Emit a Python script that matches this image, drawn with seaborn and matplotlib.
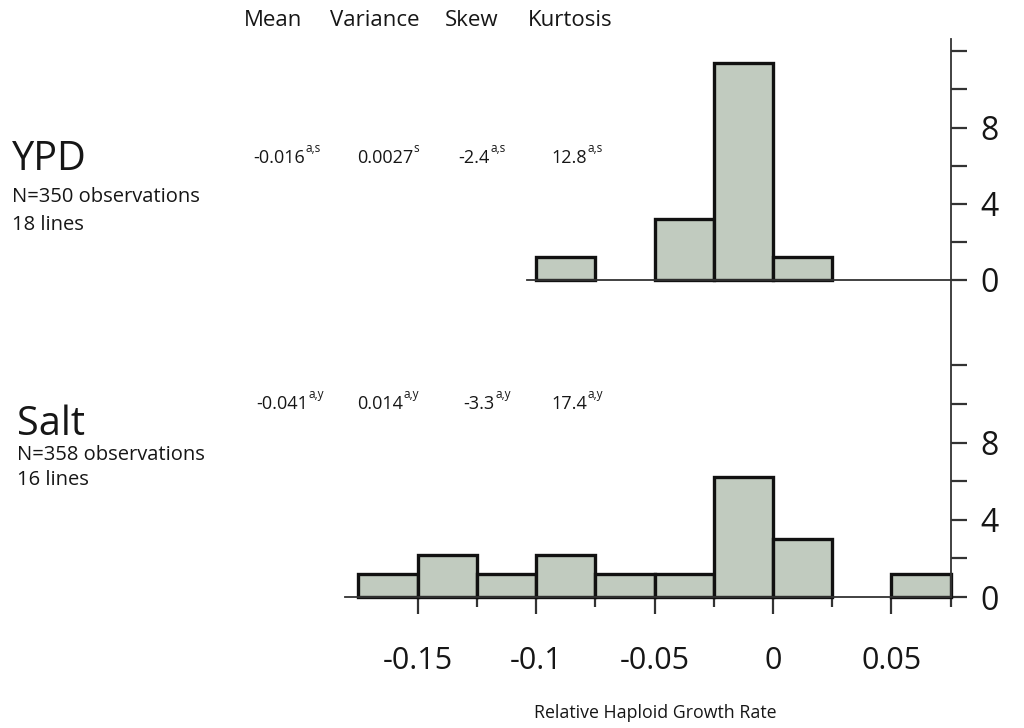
import matplotlib
matplotlib.use("Agg")
import matplotlib.pyplot as plt
import seaborn as sns
import numpy as np

# ---- data -------------------------------------------------------------
bin_edges = [-0.175, -0.15, -0.125, -0.1, -0.075, -0.05, -0.025, 0.0, 0.025, 0.05, 0.075]
ypd_counts = [0, 0, 0, 1.2, 0, 3.2, 11.4, 1.2, 0, 0]
salt_counts = [1.2, 2.2, 1.2, 2.2, 1.2, 1.2, 6.2, 3.0, 0, 1.2]

x_major = [-0.15, -0.1, -0.05, 0.0, 0.05]
x_major_labels = ["-0.15", "-0.1", "-0.05", "0", "0.05"]
x_minor = [-0.125, -0.075, -0.025, 0.025, 0.075]
y_ticks = [0, 2, 4, 6, 8, 10, 12]
y_tick_labels = ["0", "", "4", "", "8", "", ""]

stat_headers = ["Mean", "Variance", "Skew", "Kurtosis"]
ypd_stats = ["-0.016", "0.0027", "-2.4", "12.8"]
ypd_marks = ["a,s", "s", "a,s", "a,s"]
salt_stats = ["-0.041", "0.014", "-3.3", "17.4"]
salt_marks = ["a,y", "a,y", "a,y", "a,y"]

conditions = ["YPD", "Salt"]
condition_notes = [["N=350 observations", "18 lines"],
                   ["N=358 observations", "16 lines"]]

# ---- style ------------------------------------------------------------
sns.set_style("white")
plt.rcParams["font.family"] = ["Open Sans", "DejaVu Sans"]
TXT = "#161616"
BAR_FILL = "#c1cbbf"
BAR_EDGE = "#111111"
AXIS = "#333333"

W, H = 1024, 728
fig = plt.figure(figsize=(W / 100, H / 100), dpi=100)


def box(x0, y0, x1, y1):
    return [x0 / W, 1 - y1 / H, (x1 - x0) / W, (y1 - y0) / H]


def fpos(x, y):
    return x / W, 1 - y / H


ax_top = fig.add_axes(box(527, 39, 950.6, 280))
ax_bot = fig.add_axes(box(345, 280, 950.6, 597))

centers = [(a + b) / 2 for a, b in zip(bin_edges[:-1], bin_edges[1:])]

for ax, counts in ((ax_top, ypd_counts), (ax_bot, salt_counts)):
    sns.histplot(x=centers, weights=counts, bins=bin_edges, ax=ax,
                 color=BAR_FILL, edgecolor=BAR_EDGE, linewidth=2.4, alpha=1)
    for p in ax.patches:
        p.set_clip_on(False)
        if p.get_height() == 0:
            p.set_visible(False)
    ax.set_xlabel("")
    ax.set_ylabel("")
    for side in ("left", "top"):
        ax.spines[side].set_visible(False)
    for side in ("right", "bottom"):
        ax.spines[side].set_visible(True)
        ax.spines[side].set_color(AXIS)
        ax.spines[side].set_linewidth(1.3)
    ax.yaxis.tick_right()
    ax.set_yticks(y_ticks)
    ax.set_yticklabels(y_tick_labels)
    ax.tick_params(axis="y", which="major", direction="out", length=11.5,
                   width=1.6, color=AXIS, pad=10, labelsize=23, labelcolor=TXT)
    ax.patch.set_alpha(0)

ax_top.set_xlim(-0.1039, 0.075)
ax_top.set_ylim(0, 12.65)
ax_top.set_xticks([])

ax_bot.set_xlim(-0.1807, 0.075)
ax_bot.set_ylim(0, 16.42)
ax_bot.set_xticks(x_major)
ax_bot.set_xticklabels(x_major_labels)
ax_bot.set_xticks(x_minor, minor=True)
ax_bot.tick_params(axis="x", which="major", direction="out", length=12,
                   width=1.6, color=AXIS, pad=23, labelsize=22, labelcolor=TXT)
ax_bot.tick_params(axis="x", which="minor", direction="out", length=7,
                   width=1.6, color=AXIS)
ax_bot.tick_params(axis="x", which="both", bottom=True)

ax_bot.set_xlabel("Relative Haploid Growth Rate", fontsize=12.8, color=TXT)
ax_bot.xaxis.set_label_coords((655 - 345) / 605.6, -(718 - 597) / 317)
ax_bot.xaxis.label.set_va("baseline")

# ---- summary statistics table ----------------------------------------
header_x = [273, 375, 472, 570]
for hx, name in zip(header_x, stat_headers):
    fig.text(*fpos(hx, 26.5), name, ha="center", va="baseline",
             fontsize=16, color=TXT)

rows = [(ypd_stats, ypd_marks, [305, 413, 490, 587], 163),
        (salt_stats, salt_marks, [308, 403, 495, 587], 409)]
for values, marks, right_x, base_y in rows:
    for rx, val, mk in zip(right_x, values, marks):
        fig.text(*fpos(rx, base_y), val, ha="right", va="baseline",
                 fontsize=13, color=TXT)
        fig.text(*fpos(rx + 0.5, base_y - 11), mk, ha="left", va="baseline",
                 fontsize=8.5, color=TXT)

# ---- condition labels -------------------------------------------------
label_layout = [(12, 170, 201.5, 229.5), (17, 435, 459.5, 485)]
for name, notes, (lx, y_title, y_n, y_lines) in zip(conditions, condition_notes, label_layout):
    fig.text(*fpos(lx, y_title), name, ha="left", va="baseline",
             fontsize=28.5, color=TXT)
    fig.text(*fpos(lx, y_n), notes[0], ha="left", va="baseline",
             fontsize=14.5, color=TXT)
    fig.text(*fpos(lx, y_lines), notes[1], ha="left", va="baseline",
             fontsize=14.5, color=TXT)

fig.savefig("out.png", dpi=100, facecolor="white")
